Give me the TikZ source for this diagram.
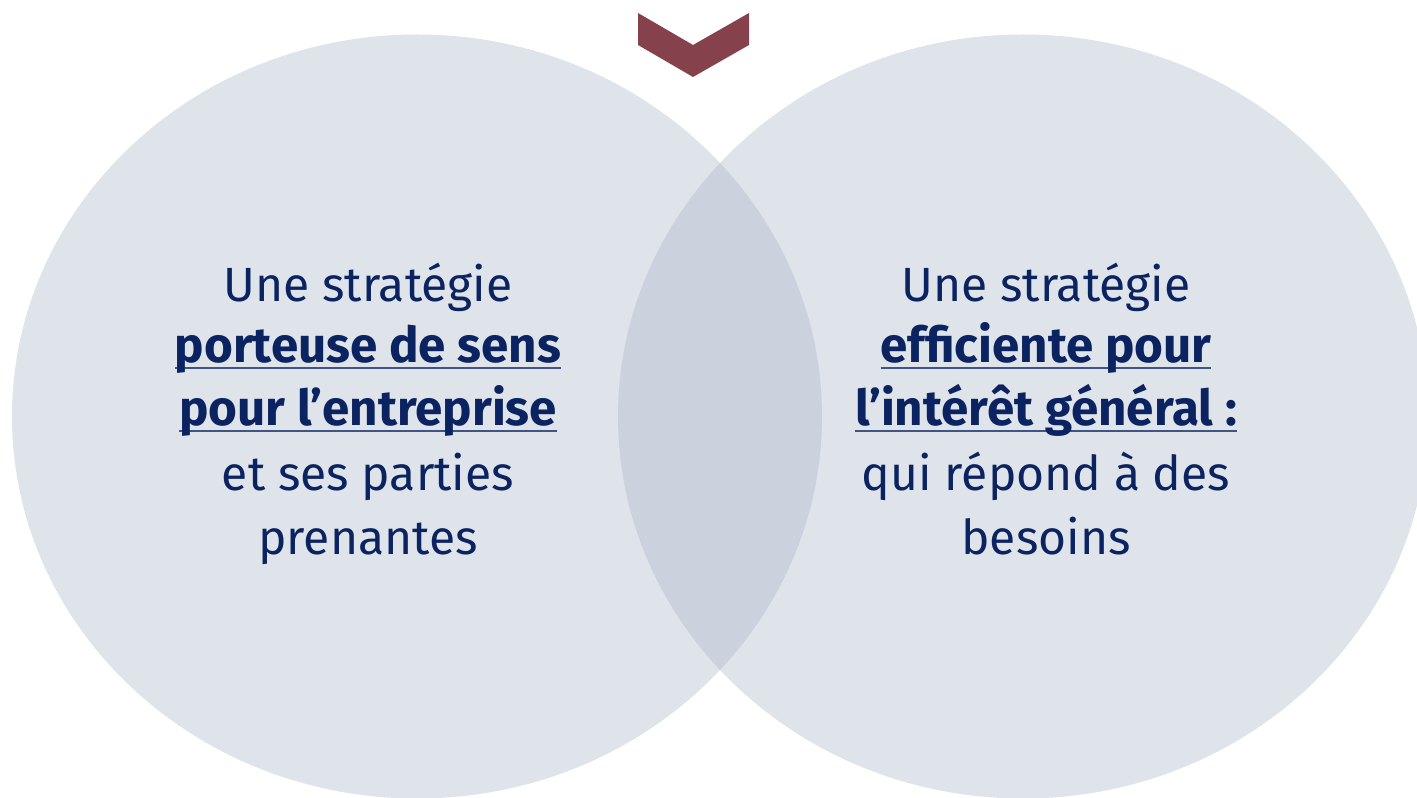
\documentclass[tikz,border=0pt]{standalone}
\usepackage{fontspec}
\setmainfont{Fira Sans}
\definecolor{ellfill}{HTML}{DFE4EA}
\definecolor{ovl}{HTML}{CBD2DD}
\definecolor{chev}{HTML}{85424D}
\definecolor{navy}{HTML}{0B2360}
\definecolor{ulc}{HTML}{3F5585}
\newcommand\myul[1]{\setbox0\hbox{#1}\rlap{\textcolor{ulc}{\rule[-0.12em]{\wd0}{0.04em}}}\box0}
\begin{document}
\begin{tikzpicture}[x=0.75pt,y=-0.75pt,
  txt/.style={anchor=base, text=navy, font=\fontsize{36}{44}\selectfont, inner sep=0pt},
  bold/.style={txt, font=\fontsize{37}{44}\selectfont\bfseries}]
\useasboundingbox (0,0) rectangle (1417,798);
\begin{scope}
  \clip (0,0) rectangle (1417,798);
  \fill[ellfill] (417,416.5) ellipse [x radius=405, y radius=382];
  \fill[ellfill] (1023,416.5) ellipse [x radius=405, y radius=382];
  \begin{scope}
    \clip (417,416.5) ellipse [x radius=405, y radius=382];
    \fill[ovl] (1023,416.5) ellipse [x radius=405, y radius=382];
  \end{scope}
\end{scope}
\fill[chev] (638,13) -- (693,45) -- (749,13) -- (749,45) -- (693,77) -- (638,45) -- cycle;
% left text
\node[txt]  (l1) at (368,302) {Une stratégie};
\node[bold] (l2) at (368,363) {\myul{porteuse de sens}};
\node[bold] (l3) at (368,426) {\myul{pour l’entreprise}};
\node[txt]  (l4) at (368,490) {et ses parties};
\node[txt]  (l5) at (368,554) {prenantes};
% right text
\node[txt]  (r1) at (1046,302) {Une stratégie};
\node[bold] (r2) at (1046,363) {\myul{efficiente pour}};
\node[bold] (r3) at (1046,426) {\myul{l’intérêt général :}};
\node[txt]  (r4) at (1046,490) {qui répond à des};
\node[txt]  (r5) at (1046,554) {besoins};
\end{tikzpicture}
\end{document}
